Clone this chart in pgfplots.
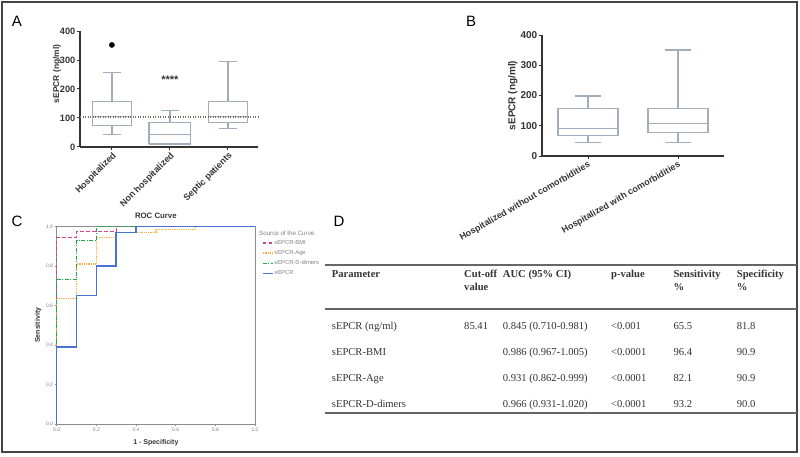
\documentclass[border=0pt]{standalone}
\usepackage{fontspec}
\setmainfont{Liberation Sans}
\newfontfamily\tnr{Liberation Serif}
\usepackage{pgfplots}
\pgfplotsset{compat=1.18}
\definecolor{boxc}{HTML}{A3AEBD}
\definecolor{axisc}{HTML}{333333}
\definecolor{dotc}{HTML}{7D716A}
\definecolor{rocblue}{HTML}{4A72D4}
\definecolor{rocpink}{HTML}{D3418F}
\definecolor{rocorange}{HTML}{F6B03C}
\definecolor{rocgreen}{HTML}{27A74A}
\definecolor{framec}{HTML}{444444}
\definecolor{rocframe}{HTML}{8C8C8C}
\definecolor{tabc}{HTML}{333333}
\definecolor{rulec}{HTML}{666666}
\pgfplotsset{
  boxax/.style={
    scale only axis, anchor=south west, clip=false,
    ymin=0, ymax=400, ytick={0,100,200,300,400},
    axis x line*=bottom, axis y line*=left,
    axis line style={-, line width=1.3pt, color=axisc},
    tick align=outside, major tick length=3pt,
    tick style={line width=1pt, color=axisc},
    /pgf/number format/assume math mode=true,
    unbounded coords=jump,
  },
  boxline/.style={boxc, line width=1.3pt, line join=miter},
}
\begin{document}
\begin{tikzpicture}
\begin{scope}[x=1pt,y=1pt]
\useasboundingbox (0,0) rectangle (800,-457);
\draw[framec, line width=1.5pt] (2,-2) rectangle (797,-452);
\node[font=\fontsize{15}{15}\selectfont] at (17,-21) {A};
\node[font=\fontsize{15}{15}\selectfont] at (471,-21) {B};
\node[font=\fontsize{15}{15}\selectfont] at (17,-221) {C};
\node[font=\fontsize{15}{15}\selectfont] at (339,-221) {D};
\end{scope}

% ---------------- Panel A
\begin{axis}[boxax,
  at={(80pt,-147pt)}, width=178pt, height=116pt,
  xmin=-0.55, xmax=2.52,
  xtick={0,1,2}, xticklabels={Hospitalized, Non hospitalized, Septic patients},
  x tick label style={rotate=45, anchor=north east, inner sep=1pt, font=\fontsize{9}{10}\selectfont\bfseries, text=axisc},
  y tick label style={font=\fontsize{9.2}{10}\selectfont\bfseries, text=axisc, inner sep=1.5pt},
  ylabel={sEPCR (ng/ml)},
  ylabel style={at={(axis description cs:-0.13,0.63)}, anchor=center, font=\fontsize{8.4}{9}\selectfont\bfseries, text=axisc},
]
% Hospitalized: whiskers 43/257, quartiles 75/157, median 104
\addplot[boxline] coordinates {(-0.335,75) (0.335,75) (0.335,157) (-0.335,157) (-0.335,75) (nan,nan)
  (-0.335,104) (0.335,104) (nan,nan) (0,157) (0,257) (nan,nan) (-0.15,257) (0.15,257) (nan,nan)
  (0,75) (0,43) (nan,nan) (-0.15,43) (0.15,43)};
% Non hospitalized: whiskers 9/126, quartiles 10/84, median 43
\addplot[boxline] coordinates {(0.64,10) (1.36,10) (1.36,84) (0.64,84) (0.64,10) (nan,nan)
  (0.64,43) (1.36,43) (nan,nan) (1,84) (1,126) (nan,nan) (0.85,126) (1.15,126)};
% Septic: whiskers 64/294, quartiles 84/157, median 106
\addplot[boxline] coordinates {(1.665,84) (2.335,84) (2.335,157) (1.665,157) (1.665,84) (nan,nan)
  (1.665,106) (2.335,106) (nan,nan) (2,157) (2,294) (nan,nan) (1.85,294) (2.15,294) (nan,nan)
  (2,84) (2,64) (nan,nan) (1.85,64) (2.15,64)};
\addplot[only marks, mark=*, mark size=2.6pt, black] coordinates {(0,352)};
\addplot[dotc, line width=1.3pt, dash pattern=on 1.2pt off 1.3pt] coordinates {(-0.55,103) (2.52,103)};
\node[anchor=base, inner sep=0pt, font=\fontsize{11}{11}\selectfont\bfseries, text=axisc] at (axis cs:1,218) {****};
\end{axis}

% ---------------- Panel B
\begin{axis}[boxax,
  at={(542pt,-156pt)}, width=182pt, height=121pt,
  xmin=-0.511, xmax=1.511,
  xtick={0,1}, xticklabels={Hospitalized without comorbidities, Hospitalized with comorbidities},
  x tick label style={rotate=30, anchor=north east, inner sep=1pt, font=\fontsize{9}{10}\selectfont\bfseries, text=axisc},
  y tick label style={font=\fontsize{10}{11}\selectfont\bfseries, text=axisc, inner sep=1.5pt},
  ylabel={sEPCR (ng/ml)},
  ylabel style={at={(axis description cs:-0.16,0.5)}, anchor=center, font=\fontsize{10}{11}\selectfont\bfseries, text=axisc},
]
% without comorbidities: 44/198, 67/156, median 92
\addplot[boxline] coordinates {(-0.333,67) (0.333,67) (0.333,156) (-0.333,156) (-0.333,67) (nan,nan)
  (-0.333,92) (0.333,92) (nan,nan) (0,156) (0,198) (nan,nan) (-0.145,198) (0.145,198) (nan,nan)
  (0,67) (0,44) (nan,nan) (-0.145,44) (0.145,44)};
% with comorbidities: 44/350, 77/156, median 107
\addplot[boxline] coordinates {(0.667,77) (1.333,77) (1.333,156) (0.667,156) (0.667,77) (nan,nan)
  (0.667,107) (1.333,107) (nan,nan) (1,156) (1,350) (nan,nan) (0.855,350) (1.145,350) (nan,nan)
  (1,77) (1,44) (nan,nan) (0.855,44) (1.145,44)};
\end{axis}

% ---------------- Panel C
\begin{axis}[
  at={(56.7pt,-424pt)}, anchor=south west, scale only axis, clip=false,
  width=198.3pt, height=197.5pt,
  xmin=0, xmax=1, ymin=0, ymax=1,
  axis line style={rocframe, line width=1pt},
  xtick={0,0.2,0.4,0.6,0.8,1}, ytick={0,0.2,0.4,0.6,0.8,1},
  xtick pos=bottom, ytick pos=left,
  tick align=outside, major tick length=2pt, tick style={rocframe, line width=0.6pt},
  /pgf/number format/assume math mode=true,
  /pgf/number format/fixed, /pgf/number format/fixed zerofill, /pgf/number format/precision=1,
  tick label style={font=\fontsize{5}{5}\selectfont, text=gray, inner sep=1.5pt},
  title={ROC Curve},
  title style={at={(axis description cs:0.5,1)}, anchor=south, inner sep=1.5pt, font=\fontsize{7.8}{8}\selectfont\bfseries, text=axisc},
  xlabel={1 - Specificity},
  xlabel style={at={(axis description cs:0.5,-0.095)}, anchor=center, font=\fontsize{7}{8}\selectfont\bfseries, text=axisc},
  ylabel={Sensitivity},
  ylabel style={at={(axis description cs:-0.094,0.5)}, anchor=center, font=\fontsize{7}{8}\selectfont\bfseries, text=axisc},
  legend style={at={(rel axis cs:1.035,0.935)}, anchor=north west, draw=none, fill=none,
    font=\fontsize{5.8}{6}\selectfont, text=gray, row sep=3.2pt, inner sep=0pt,
    nodes={inner sep=0.8pt, text height=4.3pt, text depth=1pt}},
  legend image code/.code={\draw[#1] (0pt,0pt) -- (10pt,0pt);},
  legend cell align=left,
]
\addplot[rocpink, line width=1.3pt, dash pattern=on 3.5pt off 2.5pt] coordinates {(0,0) (0,0.945) (0.1,0.945) (0.1,0.975) (0.3,0.975) (0.3,1) (1,1)};
\addlegendentry{sEPCR-BMI}
\addplot[rocorange, line width=1.3pt, dash pattern=on 1pt off 0.8pt] coordinates {(0,0) (0,0.635) (0.1,0.635) (0.1,0.81) (0.2,0.81) (0.2,0.945) (0.3,0.945) (0.3,0.97) (0.5,0.97) (0.5,0.985) (0.7,0.985) (0.7,1) (1,1)};
\addlegendentry{sEPCR-Age}
\addplot[rocgreen, line width=1.3pt, dash pattern=on 4pt off 1.5pt on 1pt off 1.5pt] coordinates {(0,0) (0,0.73) (0.1,0.73) (0.1,0.93) (0.2,0.93) (0.2,1) (1,1)};
\addlegendentry{sEPCR-D-dimers}
\addplot[rocblue, line width=1.5pt] coordinates {(0,0) (0,0.39) (0.1,0.39) (0.1,0.65) (0.2,0.65) (0.2,0.80) (0.3,0.80) (0.3,0.97) (0.4,0.97) (0.4,1) (1,1)};
\addlegendentry{sEPCR}
\node[anchor=west, font=\fontsize{6.2}{7}\selectfont, text=gray, inner sep=0pt] at (rel axis cs:1.02,0.967) {Source of the Curve};
\end{axis}

% ---------------- Panel D (table)
\begin{scope}[x=1pt,y=1pt]
\draw[rulec, line width=1.8pt] (325,-265) -- (797,-265);
\draw[rulec, line width=1.8pt] (325,-309) -- (797,-309);
\draw[rulec, line width=1.8pt] (325,-412.7) -- (797,-412.7);
\begin{scope}[every node/.style={anchor=base west, inner sep=0pt, text=tabc, font=\tnr\fontsize{10.6}{12}\selectfont}]
\node[font=\tnr\fontsize{10.6}{12}\selectfont\bfseries] at (331.7,-277.3) {Parameter};
\node[font=\tnr\fontsize{10.6}{12}\selectfont\bfseries] at (464,-277.3) {Cut-off};
\node[font=\tnr\fontsize{10.6}{12}\selectfont\bfseries] at (464,-290) {value};
\node[font=\tnr\fontsize{10.6}{12}\selectfont\bfseries] at (502.7,-277.3) {AUC (95\% CI)};
\node[font=\tnr\fontsize{10.6}{12}\selectfont\bfseries] at (611,-277.3) {p-value};
\node[font=\tnr\fontsize{10.6}{12}\selectfont\bfseries] at (673.3,-277.3) {Sensitivity};
\node[font=\tnr\fontsize{10.6}{12}\selectfont\bfseries] at (673.3,-290) {\%};
\node[font=\tnr\fontsize{10.6}{12}\selectfont\bfseries] at (736.7,-277.3) {Specificity};
\node[font=\tnr\fontsize{10.6}{12}\selectfont\bfseries] at (736.7,-290) {\%};
\node at (331.7,-329) {sEPCR (ng/ml)};
\node at (464,-329) {85.41};
\node at (502.7,-329) {0.845 (0.710-0.981)};
\node at (611,-329) {<0.001};
\node at (673.3,-329) {65.5};
\node at (736.7,-329) {81.8};
\node at (331.7,-355.5) {sEPCR-BMI};
\node at (502.7,-355.5) {0.986 (0.967-1.005)};
\node at (611,-355.5) {<0.0001};
\node at (673.3,-355.5) {96.4};
\node at (736.7,-355.5) {90.9};
\node at (331.7,-381) {sEPCR-Age};
\node at (502.7,-381) {0.931 (0.862-0.999)};
\node at (611,-381) {<0.0001};
\node at (673.3,-381) {82.1};
\node at (736.7,-381) {90.9};
\node at (331.7,-407) {sEPCR-D-dimers};
\node at (502.7,-407) {0.966 (0.931-1.020)};
\node at (611,-407) {<0.0001};
\node at (673.3,-407) {93.2};
\node at (736.7,-407) {90.0};
\end{scope}
\end{scope}
\end{tikzpicture}
\end{document}
